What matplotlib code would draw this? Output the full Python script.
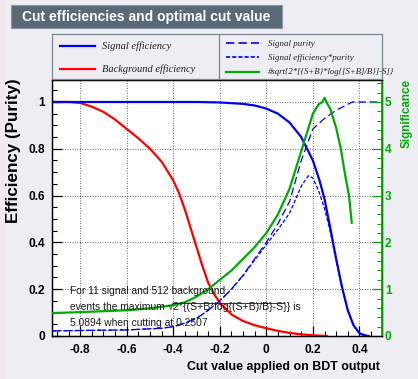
import matplotlib
matplotlib.use("Agg")
import matplotlib.pyplot as plt
from matplotlib.lines import Line2D
from matplotlib.patches import Rectangle
from matplotlib.ticker import MultipleLocator

# ---------------- data ----------------
x_sig_eff = [-0.92, -0.3, -0.2, -0.1, -0.05, 0.0, 0.05, 0.1, 0.15, 0.2, 0.23, 0.25,
             0.275, 0.3, 0.325, 0.35, 0.375, 0.4, 0.42, 0.44]
sig_eff = [1.0, 1.0, 0.998, 0.992, 0.985, 0.972, 0.95, 0.912, 0.85, 0.75, 0.66, 0.585,
           0.46, 0.33, 0.21, 0.11, 0.045, 0.012, 0.003, 0.0]

x_bkg_eff = [-0.92, -0.85, -0.8, -0.75, -0.7, -0.65, -0.6, -0.55, -0.5, -0.45, -0.4,
             -0.375, -0.35, -0.325, -0.3, -0.275, -0.25, -0.225, -0.2, -0.15, -0.1,
             -0.05, 0.0, 0.05, 0.1, 0.15, 0.2, 0.26]
bkg_eff = [1.0, 1.0, 0.996, 0.98, 0.958, 0.925, 0.885, 0.845, 0.80, 0.745, 0.665,
           0.61, 0.54, 0.46, 0.38, 0.30, 0.228, 0.18, 0.142, 0.092, 0.064,
           0.046, 0.033, 0.022, 0.013, 0.007, 0.003, 0.0]

x_purity = [-0.92, -0.6, -0.45, -0.4, -0.35, -0.3, -0.25, -0.2, -0.15, -0.1, -0.05,
            0.0, 0.05, 0.1, 0.15, 0.2, 0.25, 0.3, 0.35, 0.37, 0.5]
purity = [0.022, 0.026, 0.033, 0.04, 0.055, 0.075, 0.11, 0.15, 0.2, 0.26, 0.33,
          0.40, 0.48, 0.575, 0.75, 0.885, 0.93, 0.965, 0.99, 1.0, 1.0]

x_effpur = [-0.92, -0.6, -0.45, -0.4, -0.35, -0.3, -0.25, -0.2, -0.15, -0.1, -0.05,
            0.0, 0.05, 0.1, 0.15, 0.18, 0.2, 0.225, 0.25, 0.275, 0.3, 0.325, 0.35,
            0.375, 0.4, 0.44]
effpur = [0.022, 0.026, 0.033, 0.04, 0.055, 0.075, 0.11, 0.15, 0.2, 0.258, 0.325,
          0.39, 0.455, 0.525, 0.64, 0.685, 0.675, 0.62, 0.545, 0.445, 0.32, 0.205,
          0.108, 0.045, 0.012, 0.0]

x_signif = [-0.92, -0.8, -0.7, -0.6, -0.5, -0.4, -0.35, -0.3, -0.25, -0.2, -0.15,
            -0.1, -0.05, 0.0, 0.05, 0.1, 0.15, 0.2, 0.225, 0.24, 0.2507, 0.26,
            0.275, 0.3, 0.32, 0.34, 0.355, 0.367]
signif = [0.49, 0.51, 0.53, 0.55, 0.59, 0.66, 0.72, 0.84, 1.0, 1.2, 1.4,
          1.65, 1.9, 2.2, 2.6, 3.15, 3.95, 4.75, 4.95, 5.0, 5.0894, 4.98,
          4.85, 4.45, 4.0, 3.4, 3.0, 2.42]

x_ticks = [-0.8, -0.6, -0.4, -0.2, 0, 0.2, 0.4]
x_tick_labels = ["-0.8", "-0.6", "-0.4", "-0.2", "0", "0.2", "0.4"]
y_ticks = [0, 0.2, 0.4, 0.6, 0.8, 1]
y_tick_labels = ["0", "0.2", "0.4", "0.6", "0.8", "1"]
sig_ticks = [0, 1, 2, 3, 4, 5]
sig_tick_labels = ["0", "1", "2", "3", "4", "5"]

title = "Cut efficiencies and optimal cut value"
x_label = "Cut value applied on BDT output"
y_label = "Efficiency (Purity)"
y2_label = "Significance"
legend_left = ["Signal efficiency", "Background efficiency"]
legend_right = ["Signal purity", "Signal efficiency*purity", "#sqrt{2*[{S+B}*log{[S+B]/B}]-S]}"]
info_line1 = "For 11 signal and 512 background"
info_line2a = "events the maximum "
info_line2b = "2*{(S+B*log{(S+B)/B}-S}} is"
info_line3 = "5.0894 when cutting at 0.2507"

# ---------------- style ----------------
BLUE = "#0000ee"
RED = "#ff0000"
GREEN = "#00aa00"
SANS = "Liberation Sans"
SERIF = "Liberation Serif"
W, H = 418, 379
fig = plt.figure(figsize=(W / 100, H / 100), dpi=100)
fig.patch.set_facecolor("#ededf3")
fig.canvas.draw()
RND = fig.canvas.get_renderer()


def fx(px):
    return px / W


def fy(py):
    return 1 - py / H


def fit(t, target, vertical=False):
    """scale font so that the text spans target pixels"""
    bb = t.get_window_extent(RND)
    cur = bb.height if vertical else bb.width
    t.set_fontsize(t.get_fontsize() * target / cur)


# pinkish left strip
fig.patches.append(Rectangle((0, 0), fx(6), 1, transform=fig.transFigure,
                             facecolor="#f4e8f0", edgecolor="none", zorder=0))

# title box
fig.patches.append(Rectangle((fx(11), fy(28)), fx(271), 23 / H, transform=fig.transFigure,
                             facecolor="#5a6878", edgecolor="#8a96a2", lw=0.8, zorder=1))
tt = fig.text(fx(22), fy(16.5), title, color="white", fontsize=10.0, fontweight="bold",
              family=SANS, va="center", ha="left", zorder=2)
fit(tt, 248)

# main axes
L, R, T, B = 52, 382, 80, 336
ax = fig.add_axes([fx(L), fy(B), (R - L) / W, (B - T) / H])
ax.set_facecolor("white")
ax.set_xlim(-0.921, 0.497)
ax.set_ylim(0, 1.094)

ax.plot(x_sig_eff, sig_eff, color=BLUE, lw=1.6, zorder=4)
ax.plot(x_bkg_eff, bkg_eff, color=RED, lw=1.6, zorder=3)
ax.plot(x_purity, purity, color=BLUE, lw=0.9, ls=(0, (6, 3)), zorder=4)
ax.plot(x_effpur, effpur, color=BLUE, lw=0.9, ls=(0, (3, 1.5)), zorder=4)

ax.set_xticks(x_ticks)
ax.set_xticklabels(x_tick_labels)
ax.set_yticks(y_ticks)
ax.set_yticklabels(y_tick_labels)
ax.xaxis.set_minor_locator(MultipleLocator(0.05))
ax.yaxis.set_minor_locator(MultipleLocator(0.05))
ax.tick_params(axis="both", which="major", direction="in", length=7, width=0.9,
               labelsize=8.6)
ax.tick_params(axis="x", which="major", pad=6)
ax.tick_params(axis="y", which="major", pad=5)
ax.tick_params(axis="both", which="minor", direction="in", length=3.5, width=0.8)
ax.tick_params(axis="x", which="both", top=False)
ax.tick_params(axis="y", which="both", right=False)
for lab in ax.get_xticklabels() + ax.get_yticklabels():
    lab.set_fontweight("bold")
    lab.set_family(SANS)
ax.grid(True, which="major", ls=(0, (1, 2)), color="#333333", lw=0.6)
for s in ax.spines.values():
    s.set_linewidth(1.0)

# significance axis
ax2 = ax.twinx()
ax2.set_ylim(0, 5.47)
ax2.plot(x_signif, signif, color=GREEN, lw=1.6, zorder=5)
ax2.set_yticks(sig_ticks)
ax2.set_yticklabels(sig_tick_labels)
ax2.yaxis.set_minor_locator(MultipleLocator(0.2))
ax2.tick_params(axis="y", which="major", direction="in", length=7, width=0.9,
                colors=GREEN, labelsize=8.6, pad=2)
ax2.tick_params(axis="y", which="minor", direction="in", length=3.5, width=0.8,
                colors=GREEN)
for lab in ax2.get_yticklabels():
    lab.set_fontweight("bold")
    lab.set_family(SANS)
ax2.spines["right"].set_color(GREEN)
ax2.spines["right"].set_linewidth(1.2)

# axis titles
xl = fig.text(fx(380), fy(367), x_label, fontsize=9.2, fontweight="bold",
              family=SANS, ha="right", va="center")
fit(xl, 192)
yl = fig.text(fx(14), fy(78), y_label, fontsize=11.0, fontweight="bold",
              family=SANS, ha="center", va="top", rotation=90)
fit(yl, 145, vertical=True)
y2l = fig.text(fx(407), fy(79), y2_label, fontsize=8.8, fontweight="bold", color=GREEN,
               family=SANS, ha="center", va="top", rotation=90)
fit(y2l, 69, vertical=True)

# legend box
lg = fig.add_axes([fx(L), fy(79), (R - L) / W, 45 / H])
lg.set_xlim(L, R)
lg.set_ylim(79, 34)
lg.set_facecolor("#ededf3")
lg.set_xticks([])
lg.set_yticks([])
for s in lg.spines.values():
    s.set_color("#7d8791")
    s.set_linewidth(0.9)
lg.axvline(219, color="#7d8791", lw=0.9)
lg.plot([60, 95], [46, 46], color=BLUE, lw=1.6)
lg.plot([60, 95], [69, 69], color=RED, lw=1.6)
for yy, txt, wd in zip([46.5, 69.5], legend_left, [70, 94]):
    t = lg.text(102, yy, txt, fontsize=7.8, style="italic", family=SERIF,
                va="center", ha="left", color="#222222")
    fit(t, wd)
lg.plot([226, 259], [42.5, 42.5], color=BLUE, lw=1.2, ls=(0, (5, 2.5)))
lg.plot([226, 259], [57.3, 57.3], color=BLUE, lw=1.2, ls=(0, (2.5, 1.2)))
lg.plot([226, 259], [71.7, 71.7], color=GREEN, lw=1.6)
for yy, txt, wd in zip([43.5, 58.5, 72.5], legend_right, [47, 86, 127]):
    t = lg.text(267.5, yy, txt, fontsize=6.4, style="italic", family=SERIF,
                va="center", ha="left", color="#222222", clip_on=False)
    fit(t, wd)

# info text
tk = dict(fontsize=9.0, family=SANS, color="#1a1a1a", va="baseline",
          ha="left", zorder=10)
t1 = fig.text(fx(70), fy(294), info_line1, **tk)
fit(t1, 157)
tk["fontsize"] = t1.get_fontsize()
t2a = fig.text(fx(70), fy(310), info_line2a, **tk)
fig.text(fx(70), fy(325.5), info_line3, **tk)
bb = t2a.get_window_extent(RND)
sq = fig.text(bb.x1 / W, fy(310), "\u221a", **tk)
bbs = sq.get_window_extent(RND)
t2b = fig.text(bbs.x1 / W, fy(310), info_line2b, **tk)
fit(t2b, 300 - bbs.x1)
bbb = t2b.get_window_extent(RND)
fig.lines.append(Line2D([bbs.x1 / W, (bbb.x1 - 0.135 * bbb.width) / W],
                        [bbs.y1 / H - 0.002] * 2,
                        transform=fig.transFigure, color="#1a1a1a", lw=0.6, zorder=10))

fig.savefig("out.png", dpi=100, facecolor=fig.get_facecolor())
